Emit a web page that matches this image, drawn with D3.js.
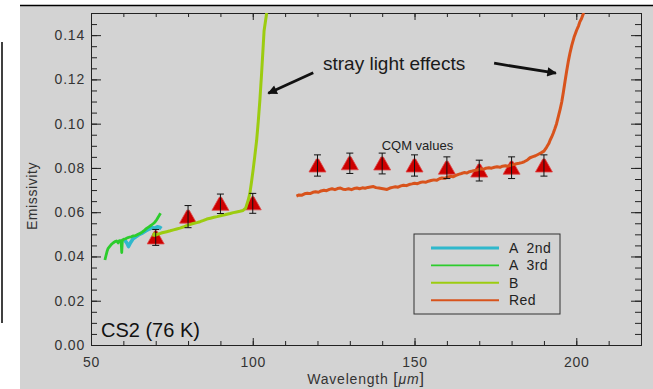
<!DOCTYPE html>
<html>
<head>
<meta charset="utf-8">
<script src="https://cdn.jsdelivr.net/npm/d3@7"></script>
<style>
  html, body { margin: 0; padding: 0; background: #ffffff; }
  svg { display: block; }
  text { font-family: "Liberation Sans", Arial, Helvetica, sans-serif; }
</style>
</head>
<body>
<svg id="chart" width="653" height="389"></svg>
<script>
// Emissivity of CS2 at 76 K: spectrometer curves (A 2nd, A 3rd, B, Red) and CQM reference values.

// [wavelength µm, emissivity]
const seriesA2nd = [
  [60.3, 0.0476], [61.0, 0.0463], [61.6, 0.0445], [62.2, 0.0462], [63.0, 0.0480],
  [64.0, 0.0490], [65.0, 0.0500], [66.0, 0.0507], [67.0, 0.0516], [68.0, 0.0524],
  [69.0, 0.0530], [69.8, 0.0528], [70.5, 0.0534], [71.2, 0.0532], [71.8, 0.0526]
];

const seriesA3rd = [
  [54.3, 0.0384], [54.6, 0.0402], [55.0, 0.0425], [55.3, 0.0437], [55.8, 0.0446],
  [56.3, 0.0455], [56.9, 0.0462], [57.4, 0.0467], [57.9, 0.0470], [58.4, 0.0461],
  [58.8, 0.0472], [59.3, 0.0471], [59.5, 0.0418], [59.7, 0.0474], [60.2, 0.0478],
  [60.7, 0.0480], [61.2, 0.0484], [61.8, 0.0487], [62.4, 0.0489], [63.1, 0.0493],
  [63.7, 0.0494], [64.4, 0.0499], [65.1, 0.0504], [65.8, 0.0510], [66.5, 0.0518],
  [67.2, 0.0527], [67.9, 0.0534], [68.6, 0.0541], [69.3, 0.0549], [69.8, 0.0556],
  [70.3, 0.0566], [70.8, 0.0578], [71.2, 0.0588], [71.5, 0.0595]
];

const seriesB = [
  [69.3, 0.0490], [69.5, 0.0503], [70.0, 0.0497], [71.0, 0.0502], [72.0, 0.0507],
  [73.4, 0.0512], [74.5, 0.0516], [75.5, 0.0520], [76.5, 0.0524], [77.5, 0.0528],
  [78.5, 0.0533], [79.5, 0.0539], [80.5, 0.0544], [81.6, 0.0549], [82.7, 0.0553],
  [83.7, 0.0557], [84.8, 0.0563], [85.8, 0.0569], [86.9, 0.0573], [88.0, 0.0577],
  [89.0, 0.0580], [90.0, 0.0584], [91.0, 0.0587], [92.0, 0.0591], [93.0, 0.0594],
  [94.0, 0.0598], [95.0, 0.0601], [96.0, 0.0604], [97.0, 0.0608], [97.8, 0.0618],
  [98.6, 0.0655], [99.1, 0.0685], [99.6, 0.0735], [100.1, 0.0790], [100.6, 0.0850],
  [101.2, 0.0925], [101.7, 0.1010], [102.2, 0.1106], [102.7, 0.1220], [103.1, 0.1320],
  [103.5, 0.1420], [104.3, 0.1500]
];

const seriesRed = [
  [113.5, 0.0673], [114.3, 0.0678], [115.2, 0.0677], [116.0, 0.0683], [116.9, 0.0686],
  [117.7, 0.0684], [118.6, 0.0690], [119.4, 0.0692], [120.3, 0.0690], [121.1, 0.0696],
  [122.0, 0.0699], [122.8, 0.0697], [123.7, 0.0703], [124.5, 0.0706], [125.4, 0.0702],
  [126.2, 0.0707], [127.1, 0.0709], [127.9, 0.0704], [128.8, 0.0703], [129.6, 0.0706],
  [130.5, 0.0702], [131.3, 0.0707], [132.2, 0.0709], [133.0, 0.0706], [133.9, 0.0710],
  [134.7, 0.0708], [135.6, 0.0712], [136.4, 0.0714], [137.3, 0.0716], [138.1, 0.0711],
  [139.0, 0.0709], [139.8, 0.0707], [140.7, 0.0705], [141.5, 0.0703], [142.4, 0.0709],
  [143.2, 0.0712], [144.1, 0.0715], [144.9, 0.0713], [145.8, 0.0719], [146.6, 0.0722],
  [147.5, 0.0720], [148.3, 0.0725], [149.2, 0.0728], [150.0, 0.0731], [150.9, 0.0729],
  [151.7, 0.0734], [152.6, 0.0737], [153.4, 0.0735], [154.3, 0.0740], [155.1, 0.0743],
  [156.0, 0.0746], [156.8, 0.0744], [157.7, 0.0751], [158.5, 0.0755], [159.4, 0.0753],
  [160.2, 0.0759], [161.1, 0.0762], [161.9, 0.0760], [162.8, 0.0766], [163.6, 0.0771],
  [164.5, 0.0775], [165.3, 0.0779], [166.2, 0.0777], [167.0, 0.0783], [167.9, 0.0786],
  [168.7, 0.0789], [169.6, 0.0792], [170.4, 0.0796], [171.3, 0.0794], [172.1, 0.0799],
  [173.0, 0.0801], [173.8, 0.0799], [174.7, 0.0803], [175.5, 0.0805], [176.4, 0.0803],
  [177.2, 0.0808], [178.1, 0.0810], [178.9, 0.0808], [179.8, 0.0813], [180.6, 0.0815],
  [181.5, 0.0819], [182.3, 0.0821], [183.2, 0.0824], [184.0, 0.0829], [184.9, 0.0836],
  [185.7, 0.0846], [186.6, 0.0851], [187.4, 0.0855], [188.3, 0.0862], [189.1, 0.0868],
  [190.0, 0.0876], [190.8, 0.0893], [191.5, 0.0910], [191.9, 0.0925], [192.4, 0.0940],
  [192.9, 0.0958], [193.4, 0.0978], [193.9, 0.1000], [194.5, 0.1035], [195.0, 0.1065],
  [195.5, 0.1098], [196.0, 0.1142], [196.5, 0.1189], [197.0, 0.1236], [197.5, 0.1279],
  [198.0, 0.1316], [198.6, 0.1354], [199.3, 0.1390], [200.1, 0.1422], [200.7, 0.1442],
  [201.1, 0.1460], [201.6, 0.1474], [202.0, 0.1490], [202.3, 0.1500]
];

// CQM reference measurements with error bars
const cqmWavelength = [70, 80, 90, 100, 120, 130, 140, 150, 160, 170, 180, 190];
const cqmEmissivity = [0.0486, 0.0580, 0.0638, 0.0640, 0.0811, 0.0821, 0.0820, 0.0811, 0.0801, 0.0788, 0.0801, 0.0811];
const cqmError      = [0.0036, 0.0050, 0.0044, 0.0045, 0.0048, 0.0046, 0.0047, 0.0048, 0.0049, 0.0047, 0.0049, 0.0048];

const xMajorTicks = [50, 100, 150, 200];
const yMajorTicks = [0, 0.02, 0.04, 0.06, 0.08, 0.10, 0.12, 0.14];

const legendLabels = ["A  2nd", "A  3rd", "B", "Red"];
const seriesColors = ["#2fb8cc", "#2ccc2c", "#9ccc10", "#d8531c"];

// ---- layout ----
const svg = d3.select("#chart");
const plot = { left: 91, right: 641, top: 13, bottom: 345 };

const x = d3.scaleLinear().domain([50, 220]).range([plot.left, plot.right]);
const y = d3.scaleLinear().domain([0, 0.15]).range([plot.bottom, plot.top]);

// page backdrop
svg.append("rect").attr("width", 653).attr("height", 389).attr("fill", "#ffffff");
svg.append("rect").attr("x", 20).attr("y", 5).attr("width", 633).attr("height", 384).attr("fill", "#d3d3d3");
svg.append("line").attr("x1", 20).attr("x2", 653).attr("y1", 5.5).attr("y2", 5.5)
  .attr("stroke", "#000").attr("stroke-width", 1.5);
svg.append("line").attr("x1", 2).attr("x2", 2).attr("y1", 42).attr("y2", 323)
  .attr("stroke", "#000").attr("stroke-width", 1.5);

svg.append("defs").append("clipPath").attr("id", "plotClip")
  .append("rect").attr("x", plot.left).attr("y", plot.top)
  .attr("width", plot.right - plot.left).attr("height", plot.bottom - plot.top);

// ---- axes (IDL style: ticks point inward, box on all four sides) ----
function styleAxis(g) {
  g.selectAll("path.domain").attr("stroke", "#222").attr("stroke-width", 1);
  g.selectAll(".tick line").attr("stroke", "#222").attr("stroke-width", 1);
  g.selectAll(".tick text")
    .attr("fill", "#333").attr("font-size", 14).attr("letter-spacing", 0.8)
    .attr("font-family", "'Liberation Sans', Arial, sans-serif");
}

const xMinor = d3.range(50, 221, 10);
const yMinor = d3.range(0, 31).map(i => i * 0.005);

// bottom
svg.append("g").attr("transform", `translate(0,${plot.bottom})`)
  .call(d3.axisBottom(x).tickValues(xMinor).tickSizeInner(-4).tickSizeOuter(0).tickFormat(""))
  .call(styleAxis);
svg.append("g").attr("transform", `translate(0,${plot.bottom})`)
  .call(d3.axisBottom(x).tickValues(xMajorTicks).tickSizeInner(-7).tickSizeOuter(0)
    .tickPadding(12).tickFormat(d3.format("d")))
  .call(styleAxis);
// top
svg.append("g").attr("transform", `translate(0,${plot.top})`)
  .call(d3.axisTop(x).tickValues(xMinor).tickSizeInner(-4).tickSizeOuter(0).tickFormat(""))
  .call(styleAxis);
svg.append("g").attr("transform", `translate(0,${plot.top})`)
  .call(d3.axisTop(x).tickValues(xMajorTicks).tickSizeInner(-7).tickSizeOuter(0).tickFormat(""))
  .call(styleAxis);
// left
svg.append("g").attr("transform", `translate(${plot.left},0)`)
  .call(d3.axisLeft(y).tickValues(yMinor).tickSizeInner(-6).tickSizeOuter(0).tickFormat(""))
  .call(styleAxis);
svg.append("g").attr("transform", `translate(${plot.left},0)`)
  .call(d3.axisLeft(y).tickValues(yMajorTicks).tickSizeInner(-10).tickSizeOuter(0)
    .tickPadding(6).tickFormat(d3.format(".2f")))
  .call(styleAxis);
// right
svg.append("g").attr("transform", `translate(${plot.right},0)`)
  .call(d3.axisRight(y).tickValues(yMinor).tickSizeInner(-6).tickSizeOuter(0).tickFormat(""))
  .call(styleAxis);
svg.append("g").attr("transform", `translate(${plot.right},0)`)
  .call(d3.axisRight(y).tickValues(yMajorTicks).tickSizeInner(-10).tickSizeOuter(0).tickFormat(""))
  .call(styleAxis);

// axis titles
svg.append("text")
  .attr("transform", "translate(37,196) rotate(-90)")
  .attr("text-anchor", "middle").attr("font-size", 14).attr("letter-spacing", 0.6)
  .attr("fill", "#333").text("Emissivity");

const xTitle = svg.append("text")
  .attr("x", (plot.left + plot.right) / 2).attr("y", 384)
  .attr("text-anchor", "middle").attr("font-size", 14).attr("letter-spacing", 0.8)
  .attr("fill", "#333");
xTitle.append("tspan").text("Wavelength ");
xTitle.append("tspan").attr("font-size", 16).text("[");
xTitle.append("tspan").attr("font-size", 14).attr("font-style", "italic").text("μm");
xTitle.append("tspan").attr("font-size", 16).text("]");

// ---- CQM triangles (drawn beneath the spectra) ----
const pts = cqmWavelength.map((w, i) => ({ w, e: cqmEmissivity[i], err: cqmError[i] }));
const marks = svg.append("g").attr("clip-path", "url(#plotClip)");
marks.selectAll("path.tri").data(pts).join("path")
  .attr("class", "tri")
  .attr("d", d => {
    const cx = x(d.w), cy = y(d.e);
    return `M${cx - 8.5},${cy + 6.5}L${cx - 1.2},${cy - 6.5}L${cx + 1.2},${cy - 6.5}L${cx + 8.5},${cy + 6.5}Z`;
  })
  .attr("fill", "#cc0000").attr("stroke", "#e04848").attr("stroke-width", 0.8);

// ---- spectra ----
const line = d3.line().x(d => x(d[0])).y(d => y(d[1]));
const curves = [
  { data: seriesA2nd, color: seriesColors[0], width: 3.6 },
  { data: seriesA3rd, color: seriesColors[1], width: 2.8 },
  { data: seriesB,    color: seriesColors[2], width: 3 },
  { data: seriesRed,  color: seriesColors[3], width: 3 }
];
marks.selectAll("path.curve").data(curves).join("path")
  .attr("class", "curve")
  .attr("d", d => line(d.data))
  .attr("fill", "none")
  .attr("stroke", d => d.color)
  .attr("stroke-width", d => d.width)
  .attr("stroke-linejoin", "round");

// ---- error bars ----
const bars = marks.selectAll("g.err").data(pts).join("g").attr("class", "err")
  .attr("stroke", "#111").attr("stroke-width", 1);
bars.append("line")
  .attr("x1", d => x(d.w)).attr("x2", d => x(d.w))
  .attr("y1", d => y(d.e + d.err)).attr("y2", d => y(d.e - d.err));
bars.append("line")
  .attr("x1", d => x(d.w) - 3.5).attr("x2", d => x(d.w) + 3.5)
  .attr("y1", d => y(d.e + d.err)).attr("y2", d => y(d.e + d.err));
bars.append("line")
  .attr("x1", d => x(d.w) - 3.5).attr("x2", d => x(d.w) + 3.5)
  .attr("y1", d => y(d.e - d.err)).attr("y2", d => y(d.e - d.err));

// ---- annotations ----
svg.append("text").attr("x", x(150.9)).attr("y", y(0.0881))
  .attr("text-anchor", "middle").attr("font-size", 13).attr("fill", "#222")
  .text("CQM values");

svg.append("text").attr("x", x(121.7)).attr("y", y(0.1242))
  .attr("font-size", 19).attr("fill", "#1a1a1a")
  .text("stray light effects");

const arrowDefs = svg.select("defs").append("marker")
  .attr("id", "arrowHead").attr("viewBox", "0 0 10 10")
  .attr("refX", 9).attr("refY", 5)
  .attr("markerWidth", 4).attr("markerHeight", 3.4)
  .attr("markerUnits", "strokeWidth").attr("orient", "auto");
arrowDefs.append("path").attr("d", "M0,0L10,5L0,10Z").attr("fill", "#111");

const arrows = [
  { from: [118.7, 0.1230], to: [104.8, 0.1137] },
  { from: [174.6, 0.1273], to: [193.7, 0.1228] }
];
svg.selectAll("line.arrow").data(arrows).join("line")
  .attr("class", "arrow")
  .attr("x1", d => x(d.from[0])).attr("y1", d => y(d.from[1]))
  .attr("x2", d => x(d.to[0])).attr("y2", d => y(d.to[1]))
  .attr("stroke", "#111").attr("stroke-width", 2.8)
  .attr("marker-end", "url(#arrowHead)");

svg.append("text").attr("x", 101).attr("y", 337)
  .attr("font-size", 20).attr("fill", "#111")
  .text("CS2 (76 K)");

// ---- legend ----
const legend = svg.append("g").attr("transform", "translate(414,234)");
legend.append("rect").attr("width", 146).attr("height", 80)
  .attr("fill", "none").attr("stroke", "#333").attr("stroke-width", 1);
const legendWidths = [3, 1.6, 2, 2];
const rows = legend.selectAll("g.row").data(legendLabels).join("g")
  .attr("class", "row")
  .attr("transform", (d, i) => `translate(0,${14 + i * 17.4})`);
rows.append("line").attr("x1", 17).attr("x2", 85)
  .attr("stroke", (d, i) => seriesColors[i])
  .attr("stroke-width", (d, i) => legendWidths[i]);
rows.append("text").attr("x", 95).attr("dy", "0.35em")
  .attr("font-size", 14).attr("fill", "#222").attr("letter-spacing", 0.4)
  .attr("xml:space", "preserve").style("white-space", "pre")
  .text(d => d);
</script>
</body>
</html>
